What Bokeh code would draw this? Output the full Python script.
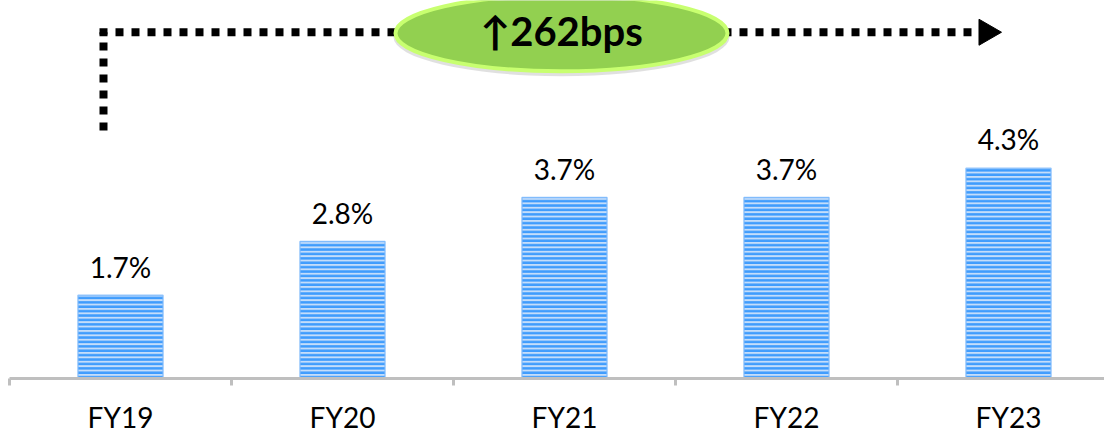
from bokeh.plotting import figure
from bokeh.models import Range1d, FixedTicker
from bokeh.core.properties import value
from bokeh.embed import file_html
from bokeh.resources import INLINE
import math

categories = ["FY19", "FY20", "FY21", "FY22", "FY23"]
values = [1.7, 2.8, 3.7, 3.7, 4.3]
value_labels = ["1.7%", "2.8%", "3.7%", "3.7%", "4.3%"]
change_label = "\u2191262bps"

W, H = 1104, 436
FRAME_H = 381
PX_PER_CAT = 222.0
X0_PX = 120.0
PX_PER_PCT = 49.3

x_start = -X0_PX / PX_PER_CAT
x_end = (W - X0_PX) / PX_PER_CAT
y_end = FRAME_H / PX_PER_PCT

def px_x(px):
    return (px - X0_PX) / PX_PER_CAT

def px_y(py):
    return (FRAME_H - py) / PX_PER_PCT

FONT = "Lato"

p = figure(width=W, height=H, output_backend="svg", toolbar_location=None,
           x_range=Range1d(x_start, x_end), y_range=Range1d(0, y_end),
           min_border=0, min_border_bottom=H - FRAME_H)
p.outline_line_color = None
p.background_fill_color = "white"
p.border_fill_color = "white"
p.grid.visible = False
p.yaxis.visible = False

idx = list(range(len(categories)))

p.vbar(x=idx, top=values, width=0.383, fill_color="#c4ddfa", line_color="#7db9fb",
       line_width=1.5, line_alpha=0.8,
       hatch_pattern="horizontal_line", hatch_color="#3f9cfd", hatch_scale=4.4,
       hatch_weight=2.6)

label_y = [v + 29 / PX_PER_PCT for v in values]
p.text(x=idx, y=label_y, text=value_labels, text_align="center",
       text_baseline="alphabetic", text_font=value(FONT),
       text_font_size="28px", text_color="#000000")

# x axis
ax = p.xaxis[0]
ax.ticker = FixedTicker(ticks=idx, minor_ticks=[i - 0.5 for i in range(len(categories) + 1)])
ax.major_label_overrides = {i: c for i, c in zip(idx, categories)}
ax.bounds = (-0.5, len(categories) - 0.5)
ax.axis_line_color = "#bfbfbf"
ax.axis_line_width = 3
ax.major_tick_line_color = None
ax.major_tick_out = 0
ax.major_tick_in = 0
ax.minor_tick_line_color = "#bfbfbf"
ax.minor_tick_line_width = 3
ax.minor_tick_out = 7
ax.minor_tick_in = 0
ax.major_label_standoff = 14
ax.major_label_text_font = FONT
ax.major_label_text_font_size = "28px"
ax.major_label_text_color = "#000000"

# dotted arrow
xl, xr, yt, yb = px_x(103), px_x(975), px_y(32), px_y(131)
p.line(x=[xl, xl], y=[yb, yt], line_width=8, line_dash="8 8", line_color="black", line_cap="butt")
p.line(x=[xl - 4 / PX_PER_CAT, xr], y=[yt, yt], line_width=8, line_dash="8 8",
       line_color="black", line_cap="butt")
p.scatter(x=[px_x(986)], y=[yt], marker="triangle", size=26, angle=-math.pi / 2,
          fill_color="black", line_color="black")

# ellipse badge
ex = px_x(561)
p.ellipse(x=[ex], y=[px_y(37)], width=336, height=78, width_units="screen", height_units="screen",
          fill_color="#000000", fill_alpha=0.12, line_color=None)
p.ellipse(x=[ex], y=[px_y(33)], width=332, height=76, width_units="screen", height_units="screen",
          fill_color="#92d050", line_color="#c8ff70", line_width=4)
p.text(x=[ex], y=[px_y(31)], text=[change_label], text_align="center", text_baseline="middle",
       text_font=value(FONT), text_font_style="bold", text_font_size="40px", text_color="#000000")

open("out.html", "w").write(file_html(p, INLINE))
